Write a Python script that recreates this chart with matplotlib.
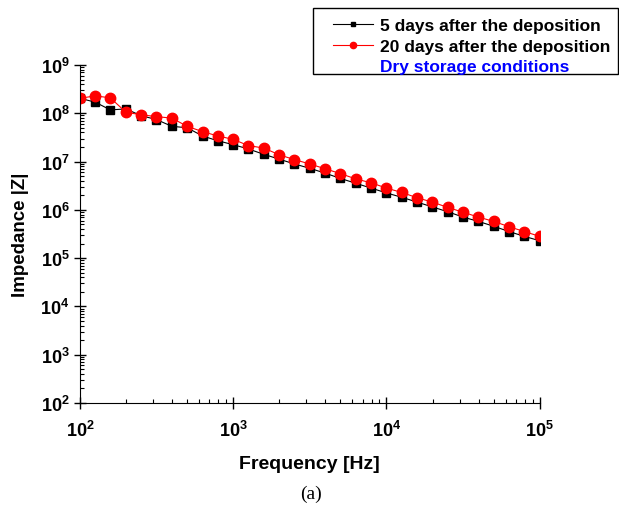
import numpy as np
import matplotlib.pyplot as plt
from matplotlib.patches import Rectangle
from matplotlib.ticker import LogLocator, NullFormatter

# Frequencies (Hz), 10 points per decade
freq = [100, 126, 158, 200, 251, 316, 398, 501, 631, 794,
        1000, 1259, 1585, 1995, 2512, 3162, 3981, 5012, 6310, 7943,
        10000, 12589, 15849, 19953, 25119, 31623, 39811, 50119, 63096, 79433,
        100000]

# log10 |Z|
logz_5d = [8.31, 8.23, 8.07, 8.09, 7.95, 7.87, 7.73, 7.70, 7.53, 7.43,
           7.35, 7.26, 7.15, 7.05, 6.95, 6.86, 6.76, 6.65, 6.55, 6.45,
           6.35, 6.26, 6.16, 6.06, 5.96, 5.85, 5.76, 5.66, 5.55, 5.45,
           5.36]
logz_20d = [8.31, 8.36, 8.32, 8.02, 7.97, 7.93, 7.90, 7.73, 7.62, 7.53,
            7.46, 7.33, 7.28, 7.14, 7.04, 6.95, 6.85, 6.75, 6.64, 6.56,
            6.45, 6.36, 6.25, 6.16, 6.05, 5.95, 5.85, 5.76, 5.65, 5.55,
            5.45]

z_5d = 10 ** np.array(logz_5d)
z_20d = 10 ** np.array(logz_20d)

plt.rcParams['font.family'] = 'Liberation Sans'
plt.rcParams['font.weight'] = 'bold'

fig = plt.figure(figsize=(6.19, 5.06), dpi=100)
ax = fig.add_axes([0.129, 0.2016, 0.743, 0.668])

l1, = ax.plot(freq, z_5d, color='black', lw=0.8, marker='s', ms=6,
              label='5 days after the deposition')
l2, = ax.plot(freq, z_20d, color='red', lw=0.8, marker='o', ms=7.5,
              label='20 days after the deposition')

ax.set_xscale('log')
ax.set_yscale('log')
ax.set_xlim(100, 1e5)
ax.set_ylim(1e2, 1e9)

ax.spines['top'].set_visible(False)
ax.spines['right'].set_visible(False)
ax.xaxis.set_minor_locator(LogLocator(base=10, subs=np.arange(2, 10), numticks=20))
ax.yaxis.set_minor_locator(LogLocator(base=10, subs=np.arange(2, 10), numticks=20))
ax.xaxis.set_minor_formatter(NullFormatter())
ax.yaxis.set_minor_formatter(NullFormatter())
ax.tick_params(which='major', direction='inout', length=8, width=1, labelsize=13)
ax.tick_params(which='minor', direction='in', length=3, width=0.8)
for lab in ax.get_xticklabels() + ax.get_yticklabels():
    lab.set_fontweight('bold')
ax.tick_params(axis='x', pad=8)

ax.set_xlabel('Frequency [Hz]', fontsize=14, fontweight='bold', labelpad=11)
ax.set_ylabel('Impedance |Z|', fontsize=13.5, fontweight='bold', labelpad=8)

# legend with an extra text line, box drawn separately
dummy, = ax.plot([], [], color='none', label='Dry storage conditions')
leg = fig.legend(handles=[l1, l2, dummy], loc='upper left',
                 bbox_to_anchor=(0.538, 0.962), fontsize=12.5, markerscale=0.6,
                 handlelength=2.3, handletextpad=0.4, frameon=False,
                 borderpad=0, labelspacing=0.3, borderaxespad=0)
leg.get_texts()[2].set_color('blue')
fig.patches.append(Rectangle((313 / 619, 1 - 75 / 506), 305 / 619, 66 / 506,
                             transform=fig.transFigure, fill=False,
                             edgecolor='black', lw=1))

fig.text(0.503, 0.013, '(a)', fontsize=14, family='Liberation Serif',
         fontweight='normal', ha='center')

fig.savefig('out.png', dpi=100)
